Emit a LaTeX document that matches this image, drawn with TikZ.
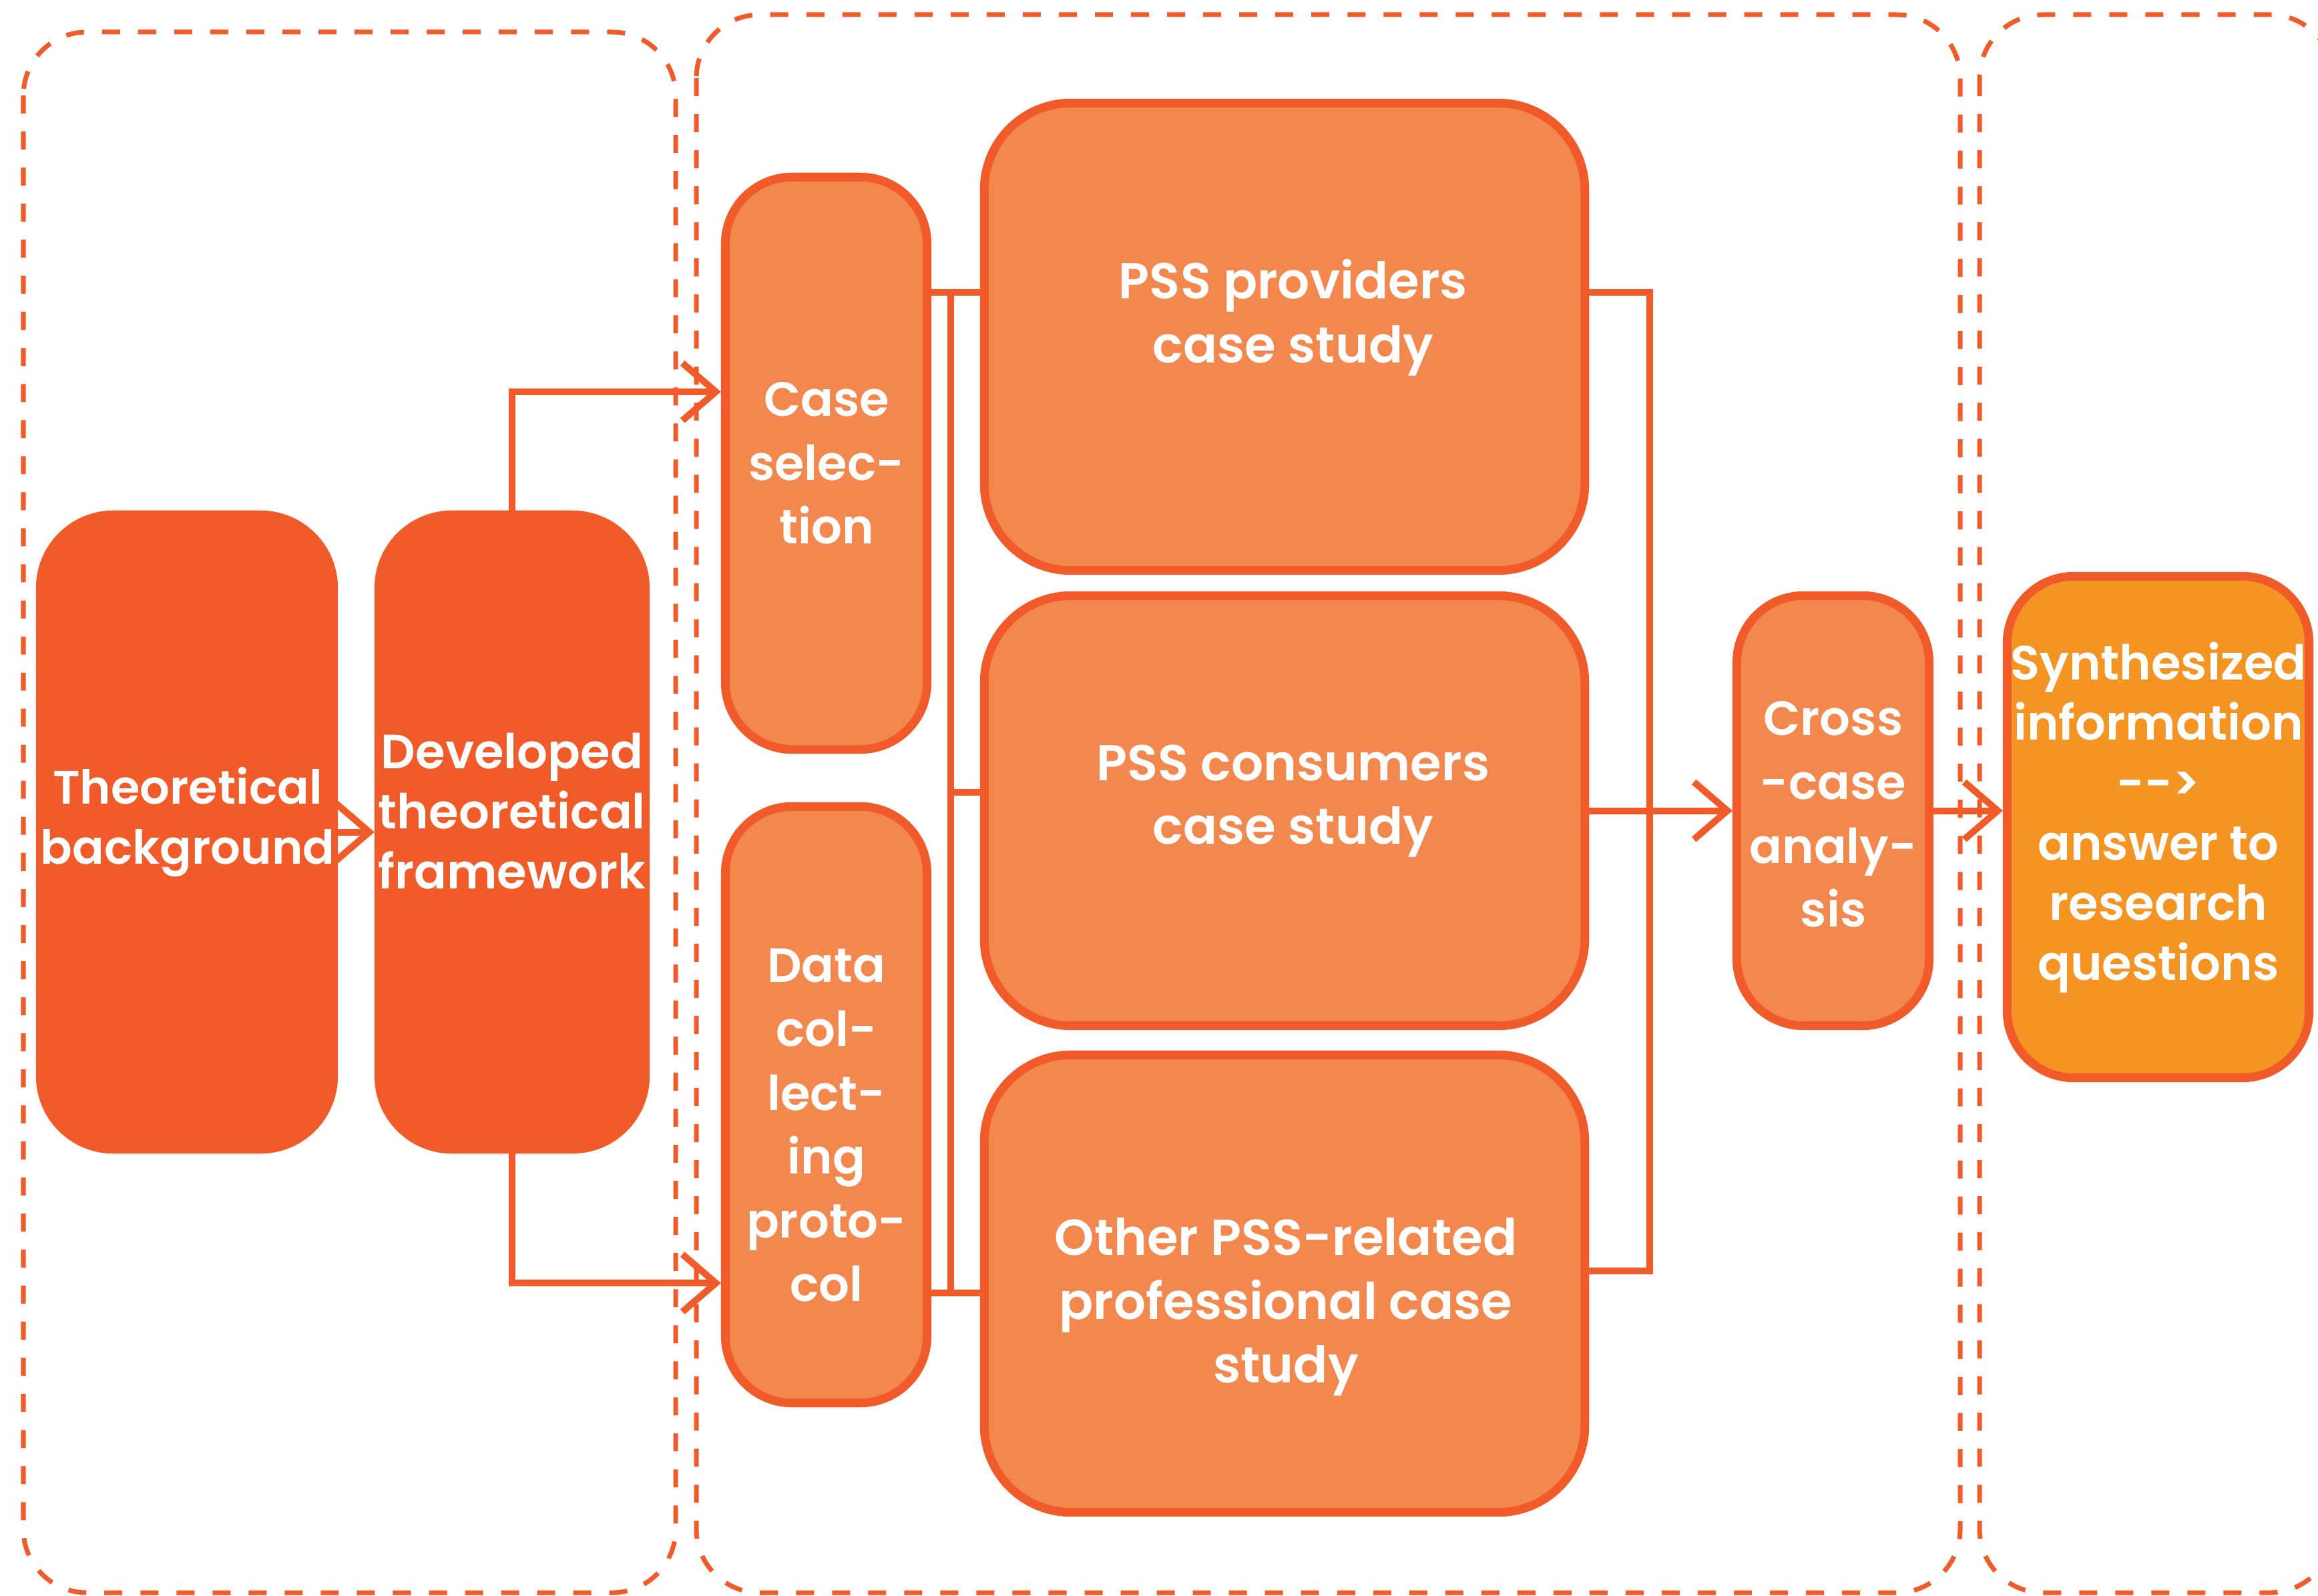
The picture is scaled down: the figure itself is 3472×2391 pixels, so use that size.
\documentclass[tikz,border=0pt]{standalone}
\usepackage{fontspec}
\IfFontExistsTF{Poppins SemiBold}
  {\setmainfont{Poppins}[BoldFont={Poppins SemiBold}]}
  {\setmainfont{Poppins}}
\usetikzlibrary{arrows.meta}
\definecolor{darkor}{HTML}{F15A29}
\definecolor{lightor}{HTML}{F3884F}
\definecolor{goldor}{HTML}{F49422}
\tikzset{
  frame/.style={draw=darkor, line width=0.07cm, dash pattern=on 0.27cm off 0.27cm, rounded corners=0.95cm},
  solidbox/.style={draw=darkor, fill=darkor, line width=0.02cm, rounded corners=1.15cm, inner sep=0pt},
  stepbox/.style={draw=darkor, fill=lightor, line width=0.13cm, rounded corners=1cm, inner sep=0pt},
  bigbox/.style={stepbox, rounded corners=1.3cm},
  endbox/.style={stepbox, fill=goldor},
  conn/.style={draw=darkor, line width=0.1cm, line join=miter},
  arr/.style={conn, -{Straight Barb[length=0.5cm, width=0.86cm]}},
  lbl/.style={text=white, align=center, inner sep=0pt,
    font=\fontsize{20.5}{25.6}\selectfont\bfseries},
  lbltall/.style={lbl, font=\fontsize{20.5}{27.2}\selectfont\bfseries},
  lblwide/.style={lbl, font=\fontsize{21.5}{27.2}\selectfont\bfseries},
}
\begin{document}
\begin{tikzpicture}[x=0.01cm, y=-0.01cm]
\useasboundingbox (0,0) rectangle (3472,2391);
\fill[white] (0,0) rectangle (3472,2391);

% dashed stage frames
\draw[frame] (35,48) rectangle (1012,2386);
\draw[frame] (1043,22) rectangle (2936,2386);
\begin{scope}
  \clip (0,0) rectangle (3472,2391);
  \draw[frame] (2965,22) rectangle (3495,2386);
\end{scope}

% boxes
\node[solidbox, minimum width=4.5cm, minimum height=9.61cm] (theo) at (280,1246.5) {};
\node[solidbox, minimum width=4.1cm, minimum height=9.61cm] (dev) at (767,1246.5) {};
\node[stepbox, minimum width=3.02cm, minimum height=8.57cm] (case) at (1237.5,694) {};
\node[stepbox, minimum width=3.02cm, minimum height=8.93cm] (data) at (1237.5,1655) {};
\node[bigbox, minimum width=8.99cm, minimum height=7.0cm] (prov) at (1924,504.5) {};
\node[bigbox, minimum width=8.99cm, minimum height=6.44cm] (cons) at (1924,1214.5) {};
\node[bigbox, minimum width=8.99cm, minimum height=6.85cm] (other) at (1924,1923) {};
\node[stepbox, minimum width=2.88cm, minimum height=6.44cm] (cross) at (2745.5,1214.5) {};
\node[endbox, minimum width=4.52cm, minimum height=7.51cm] (synth) at (3232.5,1239) {};

% bus coordinates
\coordinate (lt) at (1424,438);
\coordinate (lm) at (1424,1187);
\coordinate (lb) at (1424,1937);
\coordinate (rt) at (2471,438);
\coordinate (rb) at (2471,1904);

% connectors
\draw[arr] (theo.east) -- (dev.west);
\draw[arr] (dev.north) |- ([yshift=1.07cm]case.west);
\draw[arr] (dev.south) |- ([yshift=-2.67cm]data.west);
\draw[conn] (case.east |- lt) -- (prov.west |- lt);
\draw[conn] (lt) -- (lb);
\draw[conn] (lm) -- (lm -| cons.west);
\draw[conn] (data.east |- lb) -- (other.west |- lb);
\draw[conn] (prov.east |- rt) -- (rt) -- (rb) -- (other.east |- rb);
\draw[arr] (cons.east) -- (cross.west);
\draw[arr] (cross.east) -- (cross.east -| synth.west);

% labels
\node[lbl, font=\fontsize{20}{25.6}\selectfont\bfseries] (theoT) at (281,1232) {Theoretical\\background};
\node[lbl] (devT) at (767,1215) {Developed\\theoretical\\framework};
\node[lbltall] (caseT) at (1238,694) {Case\\selec-\\tion};
\node[lbltall] (dataT) at (1238,1686) {Data\\col-\\lect-\\ing\\proto-\\col};
\node[lblwide] (provT) at (1937,476) {PSS providers\\case study};
\node[lblwide] (consT) at (1937,1200) {PSS consumers\\case study};
\node[lblwide] (otherT) at (1926,1958) {Other PSS-related\\professional case\\study};
\node[lbltall] (crossT) at (2746,1220) {Cross\\-case\\analy-\\sis};
\node[lbl] (synthT) at (3233,1225) {Synthesized\\information\\-{}-{}>\\answer to\\research\\questions};
\end{tikzpicture}
\end{document}
